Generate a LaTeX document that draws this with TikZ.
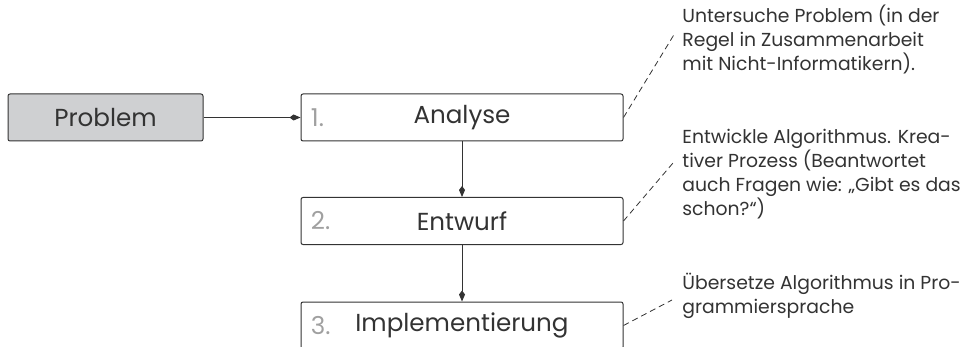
\documentclass[tikz,border=0pt]{standalone}
\usepackage{fontspec}
\setmainfont{Poppins}
\usetikzlibrary{arrows.meta}

\definecolor{boxgray}{HTML}{CFD0D2}
\definecolor{inkgray}{HTML}{333333}
\definecolor{numgray}{HTML}{A0A0A0}

\begin{document}
\begin{tikzpicture}[x=0.5pt, y=-0.5pt, >={Kite[length=5.5pt,width=3pt,inset=2pt]},
  stepbox/.style={draw=inkgray, line width=0.5pt, rounded corners=1pt, text=inkgray,
    minimum width=161pt, minimum height=23.5pt, inner sep=0pt,
    font=\fontsize{12.3}{14}\selectfont},
  startbox/.style={stepbox, fill=boxgray, minimum width=97.5pt},
  stepnum/.style={anchor=west, text=numgray, inner sep=0pt,
    font=\fontsize{12.3}{14}\selectfont},
  note/.style={anchor=north west, align=left, inner sep=0pt, text=inkgray,
    font=\fontsize{9.4}{12}\selectfont},
  flow/.style={->, draw=inkgray, line width=0.5pt},
  hint/.style={draw=inkgray, line width=0.4pt, dash pattern=on 3pt off 2pt}]
\useasboundingbox (0,0) rectangle (962,347);

% the problem and the three steps
\node [startbox] (problem) at (105.5,117.5) {Problem};
\node [stepbox] (analyse) at (462,117.5) {Analyse};
\node [stepbox] (entwurf) at (462,221) {Entwurf};
\node [stepbox] (impl) at (462,325.5) {Implementierung};

\node [stepnum] (num1) at ([xshift=5pt]analyse.west) {1.};
\node [stepnum] (num2) at ([xshift=5pt]entwurf.west) {2.};
\node [stepnum] (num3) at ([xshift=5pt]impl.west) {3.};

\draw [flow] (problem) -- (analyse);
\draw [flow] (analyse) -- (entwurf);
\draw [flow] (entwurf) -- (impl);

% notes on the right
\node [note] (note1) at (682,5) {Untersuche Problem (in der\\Regel in Zusammenarbeit\\mit Nicht-Informatikern).};
\node [note] (note2) at (682,129) {Entwickle Algorithmus. Krea-\\tiver Prozess (Beantwortet\\auch Fragen wie: „Gibt es das\\schon?“)};
\node [note] (note3) at (682,273) {Übersetze Algorithmus in Pro-\\grammiersprache};

\coordinate (end1) at (675,33);
\coordinate (end2) at (673,163);
\coordinate (end3) at (672,300);

\draw [hint] (analyse.east) -- (end1);
\draw [hint] (entwurf.east) -- (end2);
\draw [hint] (impl.east) -- (end3);
\end{tikzpicture}
\end{document}
